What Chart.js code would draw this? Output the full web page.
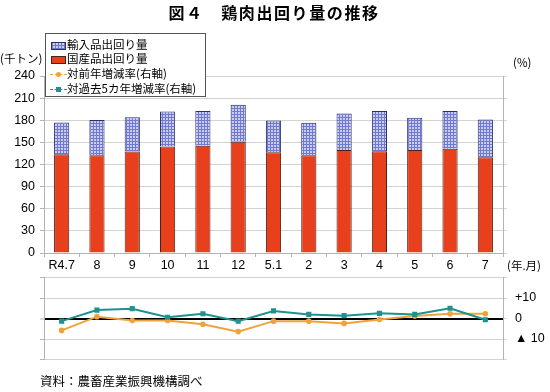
<!DOCTYPE html>
<html lang="ja">
<head>
<meta charset="utf-8">
<script src="https://cdn.jsdelivr.net/npm/chart.js@4"></script>
<style>
  html, body { margin: 0; padding: 0; background: #fff; }
  #wrap { position: relative; width: 550px; height: 392px; overflow: hidden; font-family: 'Noto Sans CJK JP', 'Liberation Sans', sans-serif; color: #000; }
  canvas { position: absolute; left: 0; }
  .txt { position: absolute; white-space: nowrap; }
  #legend { position: absolute; left: 45px; top: 33px; width: 161px; height: 64px; border: 1px solid #555; background: #fff; box-sizing: border-box; }
  .row { position: absolute; left: 0; height: 15px; line-height: 15px; font-size: 11.5px; }
  .ico { position: absolute; top: 0; width: 17px; height: 15px; }
  .lab { position: absolute; left: 21px; top: -1px; }
</style>
</head>
<body>
<div id="wrap">
  <canvas id="top" width="550" height="280" style="top:0"></canvas>
  <canvas id="bottom" width="550" height="113" style="top:262px"></canvas>
  <div class="txt" id="title" style="left:0;width:548px;text-align:center;top:3px;font-size:16px;line-height:18px;font-weight:bold;letter-spacing:1.6px;"></div>
  <div class="txt" id="unitL" style="left:0;top:51px;font-size:11.5px;line-height:14px;"></div>
  <div class="txt" id="unitR" style="left:513px;top:55px;font-size:11.5px;line-height:14px;"></div>
  <div class="txt" id="unitX" style="left:507px;top:258px;font-size:11.5px;line-height:14px;"></div>
  <div class="txt" id="source" style="left:40px;top:373px;font-size:12.5px;line-height:16px;"></div>
  <div id="legend"></div>
</div>
<script>
// ---- data ----
const categories = ['R4.7', '8', '9', '10', '11', '12', '5.1', '2', '3', '4', '5', '6', '7'];
const domesticSupply = [134, 132.5, 137.5, 144.5, 145.5, 151, 136.5, 132.5, 139.5, 138, 139.5, 141.5, 130];
const importSupply   = [43, 48, 46.5, 47.5, 47, 50, 43, 44, 49.5, 54.5, 44, 51, 51];
const yoyChange      = [-5.8, 0.9, -1.0, -1.0, -2.8, -6.4, -1.3, -1.3, -2.4, -0.5, 1.2, 2.3, 2.3];
const fiveYearChange = [-1.3, 4.1, 4.8, 0.6, 2.3, -1.3, 3.7, 2.0, 1.4, 2.5, 2.0, 5.0, -0.6];
const rightTickValues = [10, 0, -10];
const rightTickText   = ['+10', '0', '▲ 10'];
const seriesNames = ['輸入品出回り量', '国産品出回り量', '対前年増減率(右軸)', '対過去5カ年増減率(右軸)'];
const titleText = '図４　鶏肉出回り量の推移';
const unitLeft = '(千トン)';
const unitRight = '(%)';
const unitX = '(年.月)';
const sourceText = '資料：農畜産業振興機構調べ';

// ---- styles ----
const RED = '#e8401c';
const ORANGE = '#f0a33a';
const TEAL = '#1f918f';
const GRID = '#d3d3d3';
const AXIS = '#b3b3b3';
const PAT_BG = '#c9cdf0';
const PAT_LINE = '#7079cf';
const FONT = "'Liberation Sans', 'Noto Sans CJK JP', sans-serif";

document.getElementById('title').textContent = titleText;
document.getElementById('unitL').textContent = unitLeft;
document.getElementById('unitR').textContent = unitRight;
document.getElementById('unitX').textContent = unitX;
document.getElementById('source').textContent = sourceText;

// legend
const leg = document.getElementById('legend');
const icons = [
  '<div class="ico" style="left:4px;"><div style="position:absolute;left:1px;top:4px;width:15px;height:8px;border:1px solid #2a3060;box-sizing:border-box;background-color:' + PAT_BG + ';background-image:repeating-linear-gradient(0deg,' + PAT_LINE + ' 0 1px,transparent 1px 3px),repeating-linear-gradient(90deg,' + PAT_LINE + ' 0 1px,transparent 1px 3px);"></div></div>',
  '<div class="ico" style="left:4px;"><div style="position:absolute;left:1px;top:4px;width:15px;height:8px;border:1px solid #4a2418;box-sizing:border-box;background:' + RED + ';"></div></div>',
  '<div class="ico" style="left:4px;"><div style="position:absolute;left:0;top:7px;width:17px;height:0;border-top:1.5px dashed ' + ORANGE + ';"></div><div style="position:absolute;left:6px;top:5px;width:5px;height:5px;border-radius:50%;background:' + ORANGE + ';"></div></div>',
  '<div class="ico" style="left:4px;"><div style="position:absolute;left:0;top:7px;width:17px;height:0;border-top:1.5px dashed ' + TEAL + ';"></div><div style="position:absolute;left:6px;top:5px;width:5px;height:5px;background:' + TEAL + ';"></div></div>'
];
const rowTops = [4, 18, 33, 48];
seriesNames.forEach((n, i) => {
  const r = document.createElement('div');
  r.className = 'row';
  r.style.top = rowTops[i] + 'px';
  r.style.width = '159px';
  r.innerHTML = icons[i] + '<span class="lab"></span>';
  r.querySelector('.lab').textContent = n;
  leg.appendChild(r);
});

// pattern for imports
const topCanvas = document.getElementById('top');
const tctx = topCanvas.getContext('2d');
function makePattern() {
  const c = document.createElement('canvas');
  c.width = 3; c.height = 3;
  const g = c.getContext('2d');
  g.fillStyle = PAT_BG; g.fillRect(0, 0, 3, 3);
  g.fillStyle = PAT_LINE; g.fillRect(0, 0, 3, 1); g.fillRect(0, 0, 1, 3);
  return tctx.createPattern(c, 'repeat');
}

new Chart(topCanvas, {
  type: 'bar',
  data: {
    labels: categories,
    datasets: [
      { label: seriesNames[1], data: domesticSupply, backgroundColor: RED, borderColor: '#4a2418', borderWidth: 1, barPercentage: 0.43, categoryPercentage: 1 },
      { label: seriesNames[0], data: importSupply, backgroundColor: makePattern(), borderColor: '#2a3060', borderWidth: 1, barPercentage: 0.43, categoryPercentage: 1 }
    ]
  },
  options: {
    responsive: false,
    animation: false,
    layout: { padding: { left: 0, right: 0, top: 76, bottom: 0 } },
    plugins: { legend: { display: false }, tooltip: { enabled: false } },
    scales: {
      x: {
        stacked: true,
        grid: { drawOnChartArea: false, offset: true, tickLength: 4, color: AXIS },
        border: { color: AXIS },
        ticks: { padding: 1, color: '#000', font: { size: 12.5, family: FONT } },
        afterFit(s) { s.height = 27; }
      },
      y: {
        stacked: true, min: 0, max: 240,
        ticks: { stepSize: 30, padding: 5, color: '#000', font: { size: 12.5, family: FONT } },
        grid: { color: GRID, tickLength: 4, tickColor: AXIS },
        border: { color: AXIS },
        afterFit(s) { s.width = 44; }
      },
      y2: {
        position: 'right', min: 0, max: 240,
        ticks: { display: false, stepSize: 30 },
        grid: { drawOnChartArea: false, tickLength: 4, color: GRID },
        border: { color: AXIS },
        afterFit(s) { s.width = 47; }
      }
    }
  }
});

new Chart(document.getElementById('bottom'), {
  type: 'line',
  data: {
    labels: categories,
    datasets: [
      { label: seriesNames[3], data: fiveYearChange, borderColor: TEAL, backgroundColor: TEAL, borderWidth: 2, pointStyle: 'rect', pointRadius: 3.6, pointBorderWidth: 0, order: 0, yAxisID: 'y' },
      { label: seriesNames[2], data: yoyChange, borderColor: ORANGE, backgroundColor: ORANGE, borderWidth: 2, pointStyle: 'circle', pointRadius: 2.8, pointBorderWidth: 0, order: 1, yAxisID: 'y' }
    ]
  },
  options: {
    responsive: false,
    animation: false,
    layout: { padding: { left: 0, right: 0, top: 13.3, bottom: 11.7 } },
    plugins: { legend: { display: false }, tooltip: { enabled: false } },
    scales: {
      x: { type: 'category', offset: true, display: false },
      y: {
        min: -20, max: 20,
        ticks: { display: false, stepSize: 10 },
        grid: {
          color: c => (c.tick && c.tick.value === 0) ? '#000' : GRID,
          lineWidth: c => (c.tick && c.tick.value === 0) ? 2 : 1,
          tickLength: 4, tickColor: AXIS, tickWidth: 1
        },
        border: { color: AXIS },
        afterFit(s) { s.width = 44; }
      },
      y2: {
        position: 'right', min: -20, max: 20,
        ticks: {
          stepSize: 10, padding: 8, color: '#000', font: { size: 12.5, family: FONT },
          callback: v => { const i = rightTickValues.indexOf(v); return i >= 0 ? rightTickText[i] : ''; }
        },
        grid: { drawOnChartArea: false, tickLength: 4, color: GRID },
        border: { color: AXIS },
        afterFit(s) { s.width = 47; }
      }
    }
  }
});
</script>
</body>
</html>
